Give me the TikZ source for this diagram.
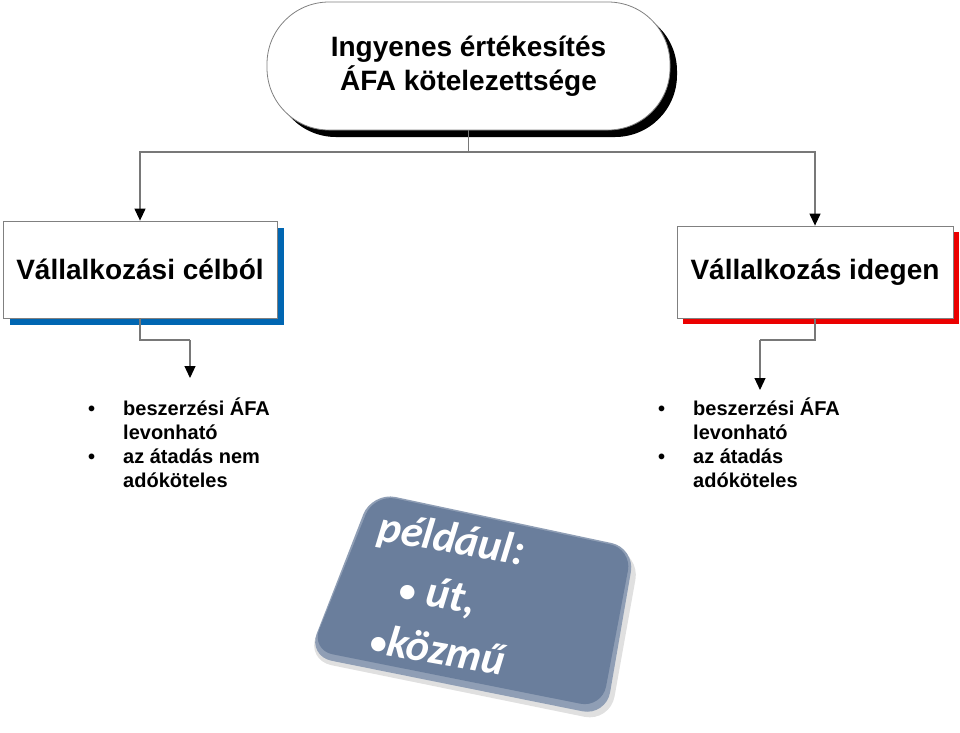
\documentclass[tikz,border=0pt]{standalone}
\usepackage{fontspec}
\setmainfont{Liberation Sans}
\newfontfamily\calib{Carlito}
\usetikzlibrary{arrows.meta,shadows}
\definecolor{shblue}{RGB}{0,102,178}
\definecolor{shred}{RGB}{235,0,0}
\definecolor{slate}{RGB}{106,126,156}
\definecolor{conngray}{RGB}{120,120,120}
\begin{document}
\begin{tikzpicture}[x=1pt,y=-1pt,
  conn/.style={draw=conngray,line width=1.2pt,-{Triangle[width=11pt,length=12pt,color=black]}},
  plain/.style={draw=conngray,line width=1.2pt},
  catbox/.style={draw=gray,fill=white,line width=0.8pt,rectangle,inner sep=0pt,
    font=\fontsize{28}{34}\selectfont\bfseries},
  bullets/.style={anchor=north west,inner xsep=0pt,
    font=\fontsize{20}{24}\selectfont\bfseries,align=left},
  extext/.style={text=white,font=\calib\fontsize{44}{56}\selectfont\bfseries\itshape,rotate=-10,inner sep=0pt}
]
\useasboundingbox (0,0) rectangle (960,732);

% title
\node[draw=gray,fill=white,line width=0.8pt,rectangle,rounded corners=62pt,
  minimum width=403pt,minimum height=128pt,
  drop shadow={shadow xshift=7pt,shadow yshift=-7pt,fill=black,opacity=1},
  align=center,font=\fontsize{28}{34}\selectfont\bfseries] (title) at (468.5,66)
  {Ingyenes értékesítés\\ÁFA kötelezettsége};

% category boxes
\node[catbox,minimum width=274pt,minimum height=97pt,
  drop shadow={shadow xshift=7pt,shadow yshift=-7pt,fill=shblue,opacity=1}] (lbox) at (140,269.5)
  {Vállalkozási célból};
\node[catbox,minimum width=276pt,minimum height=92pt,
  drop shadow={shadow xshift=6pt,shadow yshift=-6pt,fill=shred,opacity=1}] (rbox) at (815,272)
  {Vállalkozás idegen};

% connectors from title
\coordinate (tj) at (468.5,152);
\draw[plain] (title.south) -- (tj);
\draw[conn] (tj) -| (lbox.north);
\draw[conn] (tj) -| (rbox.north);

% bullet lists
\node[bullets,inner ysep=20pt] (lbul) at (88,378)
  {\begin{tabular}{@{}p{35pt}@{}l@{}}\textbullet & beszerzési ÁFA\\ & levonható\\ \textbullet & az átadás nem\\ & adóköteles\end{tabular}};
\node[bullets,inner ysep=8pt] (rbul) at (658,390)
  {\begin{tabular}{@{}p{35pt}@{}l@{}}\textbullet & beszerzési ÁFA\\ & levonható\\ \textbullet & az átadás\\ & adóköteles\end{tabular}};

\coordinate (lj) at (190,340);
\coordinate (rj) at (760,340);
\draw[plain] (lbox.south) |- (lj);
\draw[conn] (lj) -- (lj |- lbul.north);
\draw[plain] (rbox.south) |- (rj);
\draw[conn] (rj) -- (rj |- rbul.north);

% example card
\fill[black,opacity=0.12,rounded corners=26pt] (374,498) -- (640,554) -- (610,722) -- (306,660) -- cycle;
\fill[slate!75!white,rounded corners=24pt] (372,492) -- (635,548) -- (606,716) -- (308,656) -- cycle;
\fill[slate,rounded corners=22pt] (374,494) -- (632,549) -- (602,708) -- (311,650) -- cycle;
\node[extext,anchor=base west] (ex) at (376,540)
  {\begin{tabular}[t]{@{}l@{}}például:\\
   \hspace*{32pt}{\fontsize{34}{34}\selectfont•} út,\\
   \hspace*{12pt}{\fontsize{34}{34}\selectfont•}közmű\end{tabular}};
\end{tikzpicture}
\end{document}
